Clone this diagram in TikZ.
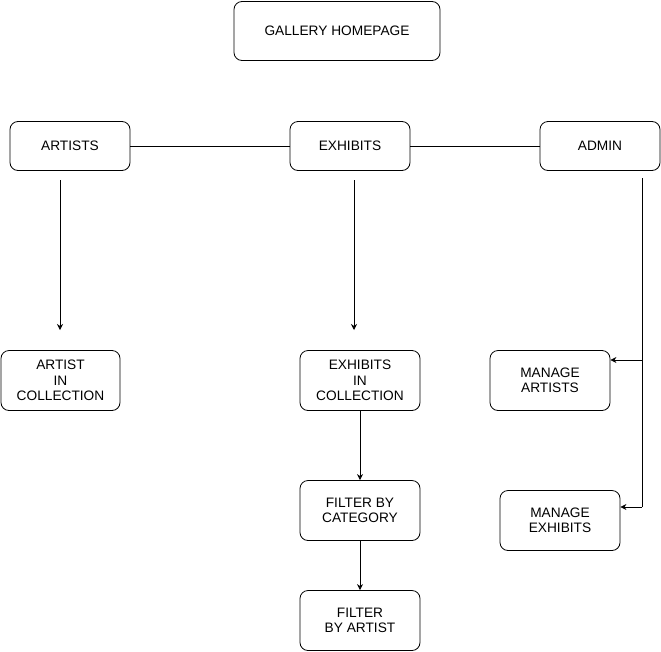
\documentclass[tikz,border=0pt]{standalone}
\usepackage{fontspec}
\setmainfont{Liberation Sans}
\usetikzlibrary{arrows.meta}
\begin{document}
\begin{tikzpicture}[x=1pt,y=-1pt,
  box/.style={draw,rounded corners=8pt,line width=0.8pt,inner sep=0pt,align=center,
    font=\fontsize{13.7}{15.5}\selectfont},
  conn/.style={line width=0.8pt},
  arr/.style={conn,-{Stealth[length=6pt,width=6pt]}}]
\useasboundingbox (0,0) rectangle (661,651);
\node[box,minimum width=206pt,minimum height=59pt] (home) at (337,31) {GALLERY HOMEPAGE};
\node[box,minimum width=120pt,minimum height=49pt] (artists) at (70,146) {ARTISTS};
\node[box,minimum width=120pt,minimum height=49pt] (exhibits) at (350,146) {EXHIBITS};
\node[box,minimum width=120pt,minimum height=49pt] (admin) at (600,146) {ADMIN};
\node[box,minimum width=119pt,minimum height=60pt] (aic) at (60.5,380.5) {ARTIST\\IN\\COLLECTION};
\node[box,minimum width=120pt,minimum height=60pt] (eic) at (360,380.5) {EXHIBITS\\IN\\COLLECTION};
\node[box,minimum width=120pt,minimum height=60pt] (fbc) at (360,510.5) {FILTER BY\\CATEGORY};
\node[box,minimum width=120pt,minimum height=60pt] (fba) at (360,620.5) {FILTER\\BY ARTIST};
\node[box,minimum width=120pt,minimum height=60pt] (ma) at (550,380.5) {MANAGE\\ARTISTS};
\node[box,minimum width=120pt,minimum height=60pt] (me) at (560,520.5) {MANAGE\\EXHIBITS};
\draw[conn] (artists) -- (exhibits);
\draw[conn] (exhibits) -- (admin);
\coordinate (as) at (60,180);
\coordinate (ae) at (60,330);
\draw[arr] (as) -- (ae);
\coordinate (es) at (354,180);
\coordinate (ee) at (354,330);
\draw[arr] (es) -- (ee);
\draw[arr] (eic) -- (fbc);
\draw[arr] (fbc) -- (fba);
\coordinate (ds) at (642,178);
\coordinate (dm) at (642,360);
\coordinate (dn) at (642,507);
\draw[conn] (ds) -- (dn);
\draw[arr] (dm) -- (dm -| ma.east);
\draw[arr] (dn) -- (dn -| me.east);
\end{tikzpicture}
\end{document}
